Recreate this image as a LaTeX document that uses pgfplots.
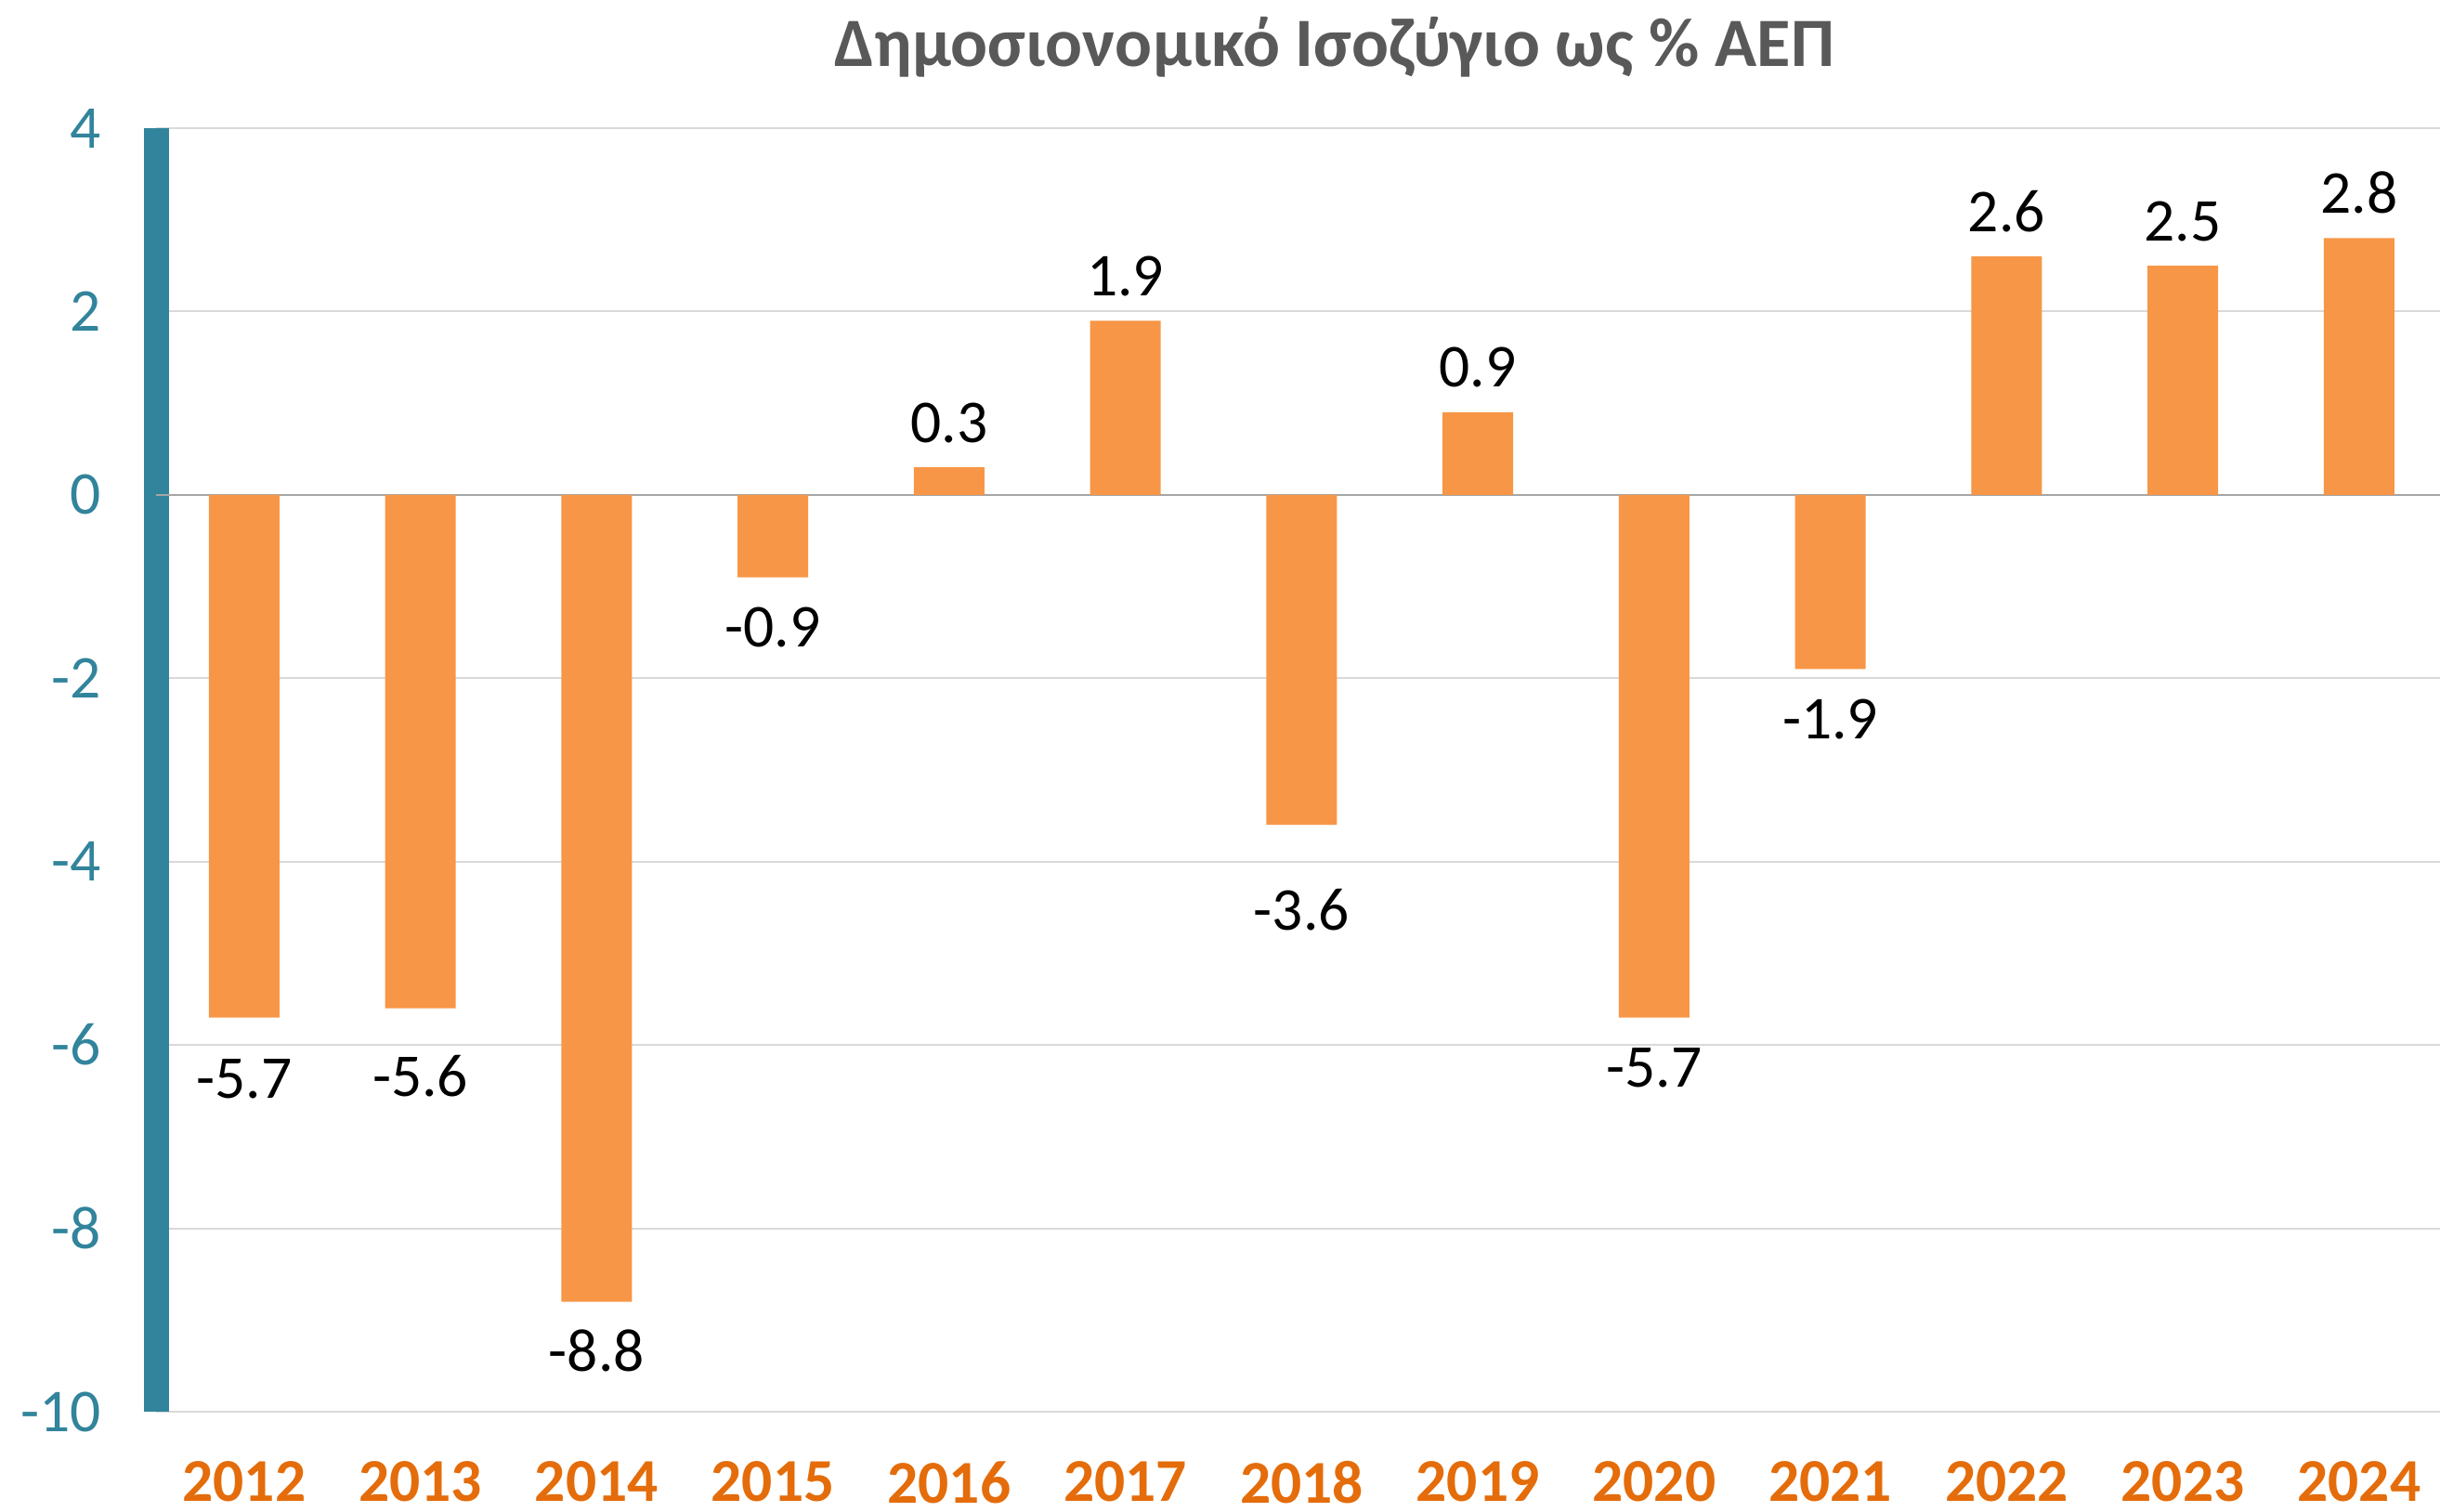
\documentclass[border=0pt]{standalone}
\usepackage{pgfplots}
\usepackage{pgfplotstable}
\pgfplotsset{compat=1.18}
\usepackage{fontspec}
\setmainfont{Carlito}
\definecolor{barorange}{HTML}{F79646}
\definecolor{tealc}{HTML}{31849B}
\definecolor{xlab}{HTML}{E46C0A}
\definecolor{titlegray}{HTML}{595959}
\definecolor{gridc}{HTML}{D9D9D9}
\definecolor{zeroc}{HTML}{A6A6A6}
\pgfplotstableread{
x y off
0 -5.7 12.0
1 -5.6 13.6
2 -8.8 9.7
3 -0.9 9.7
4 0.3 9.7
5 1.9 9.7
6 -3.6 17.3
7 0.9 9.7
8 -5.7 9.7
9 -1.9 9.7
10 2.6 9.7
11 2.5 9.7
12 2.8 9.7
}\balance
\begin{document}
\begin{tikzpicture}
\begin{axis}[
  at={(0,0)}, anchor=south west,
  scale only axis, width=491.8pt, height=276.4pt,
  xmin=-0.5, xmax=12.459, ymin=-10, ymax=4,
  axis y line*=left, axis x line*=bottom,
  x axis line style={draw=none},
  y axis line style={line width=5.4pt, color=tealc},
  ytick={-10,-8,-6,-4,-2,2,4},
  extra y ticks={0},
  extra y tick style={grid style={color=zeroc, line width=0.5pt}},
  xtick={0,1,2,3,4,5,6,7,8,9,10,11,12},
  xticklabels={2012,2013,2014,2015,2016,2017,2018,2019,2020,2021,2022,2023,2024},
  major tick length=0pt,
  ymajorgrids,
  grid style={color=gridc, line width=0.4pt},
  /pgf/number format/assume math mode=true,
  xticklabel style={font=\fontsize{13.1}{15}\selectfont\bfseries, text=xlab, anchor=north, inner sep=0pt, yshift=-10.5pt},
  yticklabel style={font=\fontsize{13.1}{15}\selectfont, text=tealc, anchor=east, inner sep=0pt, xshift=-11.6pt},
  ybar, bar width=0.4,
]
\addplot[ybar, fill=barorange, draw=none, bar shift=0pt,
  visualization depends on={\thisrow{off} \as \off},
  nodes near coords={\rule{0pt}{\off pt}\pgfmathprintnumber{\pgfplotspointmeta}},
  nodes near coords align=vertical,
  every node near coord/.append style={font=\fontsize{13.1}{15}\selectfont, text=black, inner xsep=0pt, inner ysep=5.1pt}]
table[x=x, y=y] {\balance};
\end{axis}
\node[anchor=base, font=\fontsize{14.9}{17}\selectfont\bfseries, text=titlegray, inner sep=0pt] at (253.8pt,289.7pt) {Δημοσιονομικό Ισοζύγιο ως \% ΑΕΠ};
\pgfresetboundingbox
\path[use as bounding box] (-33.6pt,-21.6pt) rectangle (491.8pt,304pt);
\end{tikzpicture}
\end{document}
